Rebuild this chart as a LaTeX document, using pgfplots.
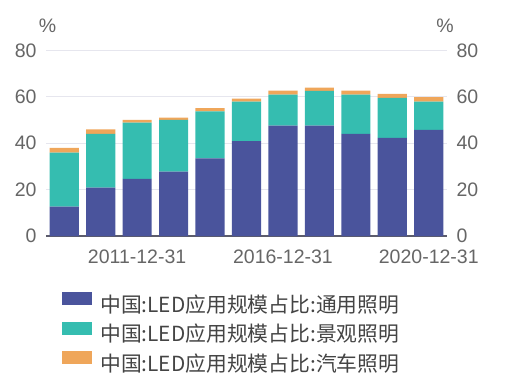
\documentclass[border=0pt]{standalone}
\usepackage{pgfplots}
\pgfplotsset{compat=1.18}
\usepackage{fontspec}
\setmainfont{Liberation Sans}
\newfontfamily\cjk{Noto Sans CJK SC}
\definecolor{cblue}{HTML}{4A549C}
\definecolor{cteal}{HTML}{35BDB0}
\definecolor{corange}{HTML}{EFA65A}
\definecolor{ctext}{HTML}{666666}
\definecolor{clegend}{HTML}{444444}
\definecolor{cgrid}{HTML}{E6E6EE}
\definecolor{caxis}{HTML}{5C5C6B}
\begin{document}
\begin{tikzpicture}
\useasboundingbox (-46pt,-154pt) rectangle (467pt,236pt);
\begin{axis}[
  scale only axis, width=401pt, height=185.5pt, clip=false,
  ybar stacked, bar width=0.8,
  xmin=-0.5, xmax=10.5, ymin=0, ymax=80,
  ytick={0,20,40,60,80},
  xtick={2,6,10}, xticklabels={2011-12-31,2016-12-31,2020-12-31},
  axis x line*=bottom, axis y line*=left,
  y axis line style={draw=none},
  x axis line style={draw=caxis, line width=1.5pt},
  major tick length=0pt,
  ymajorgrids, grid style={cgrid, line width=0.8pt},
  tick label style={color=ctext, font=\fontsize{19.5}{22}\selectfont},
  /pgf/number format/assume math mode=true,
  xticklabel style={yshift=-10pt},
  yticklabel style={xshift=-6pt},
  legend style={draw=none, fill=none, at={(13pt,-54pt)}, anchor=north west,
    font=\cjk\fontsize{20.8}{23}\selectfont, text=clegend,
    row sep=8pt, nodes={inner xsep=8pt, inner ysep=0pt}},
  legend cell align=left,
  legend image code/.code={\fill[#1, draw=none] (0pt,-1pt) rectangle (30pt,12pt);},
]
\addplot[fill=cblue, draw=none] coordinates {(0,12.7) (1,20.9) (2,24.6) (3,27.8) (4,33.5) (5,40.9) (6,47.6) (7,47.6) (8,44.0) (9,42.3) (10,45.8)};
\addplot[fill=cteal, draw=none] coordinates {(0,23.3) (1,23.1) (2,24.3) (3,22.3) (4,20.2) (5,17.1) (6,13.4) (7,15.0) (8,17.0) (9,17.3) (10,12.1)};
\addplot[fill=corange, draw=none] coordinates {(0,2.0) (1,2.0) (2,1.2) (3,1.0) (4,1.4) (5,1.2) (6,1.7) (7,1.4) (8,1.7) (9,1.7) (10,2.0)};
\legend{中国:LED应用规模占比:通用照明, 中国:LED应用规模占比:景观照明, 中国:LED应用规模占比:汽车照明}
\node[text=ctext, font=\fontsize{19.5}{22}\selectfont] at ([yshift=25pt]rel axis cs:0.004,1) {\%};
\end{axis}
\begin{axis}[
  scale only axis, width=401pt, height=185.5pt, clip=false,
  xmin=-0.5, xmax=10.5, ymin=0, ymax=80,
  ytick={0,20,40,60,80}, xtick=\empty,
  axis x line=none, axis y line*=right,
  y axis line style={draw=none},
  major tick length=0pt,
  tick label style={color=ctext, font=\fontsize{19.5}{22}\selectfont},
  /pgf/number format/assume math mode=true,
  yticklabel style={xshift=6pt},
]
\addplot[draw=none] coordinates {(0,0)};
\node[text=ctext, font=\fontsize{19.5}{22}\selectfont] at ([yshift=25pt]rel axis cs:0.995,1) {\%};
\end{axis}
\end{tikzpicture}
\end{document}
